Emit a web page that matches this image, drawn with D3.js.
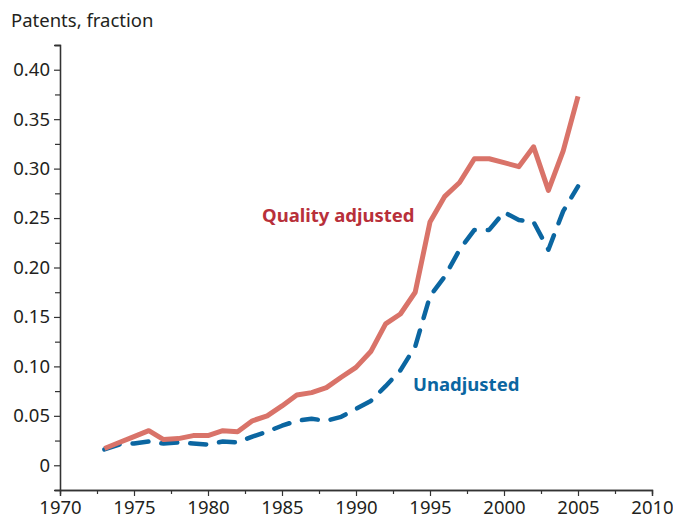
<!DOCTYPE html>
<html>
<head>
<meta charset="utf-8">
<script src="https://cdn.jsdelivr.net/npm/d3@7"></script>
<style>
  body { margin: 0; background: #fff; }
  svg text { font-family: "Noto Sans", Lato, sans-serif; fill: #231f20; }
</style>
</head>
<body>
<div id="container"></div>
<script>
const years = d3.range(1973, 2006);
const qualityAdjusted = [0.017, 0.023, 0.029, 0.035, 0.026, 0.027, 0.030, 0.030, 0.035, 0.034,
  0.045, 0.050, 0.060, 0.071, 0.0735, 0.0785, 0.089, 0.099, 0.115, 0.143, 0.153, 0.175,
  0.246, 0.272, 0.286, 0.310, 0.310, 0.306, 0.302, 0.322, 0.278, 0.318, 0.373];
const unadjusted = [0.016, 0.021, 0.022, 0.024, 0.022, 0.023, 0.022, 0.021, 0.024, 0.023,
  0.029, 0.034, 0.040, 0.045, 0.047, 0.045, 0.049, 0.057, 0.065, 0.080, 0.096, 0.120,
  0.171, 0.191, 0.218, 0.238, 0.238, 0.256, 0.248, 0.246, 0.218, 0.257, 0.282];
const yTicks = [0, 0.05, 0.10, 0.15, 0.20, 0.25, 0.30, 0.35, 0.40];
const yMinor = [-0.025, 0.025, 0.075, 0.125, 0.175, 0.225, 0.275, 0.325, 0.375, 0.425];
const xTicks = [1970, 1975, 1980, 1985, 1990, 1995, 2000, 2005, 2010];
const xMinor = [1972.5, 1977.5, 1982.5, 1987.5, 1992.5, 1997.5, 2002.5, 2007.5];

const w = 673, h = 522;
const margin = {top: 45, left: 60, bottom: 32, right: 21};
const font = "'Noto Sans', Lato, sans-serif";

const svg = d3.select("#container").append("svg").attr("width", w).attr("height", h);

const xScale = d3.scaleLinear().domain([1970, 2010]).range([margin.left, w - margin.right]);
const yScale = d3.scaleLinear().domain([-0.025, 0.425]).range([h - margin.bottom, margin.top]);

// axes
const yAxis = d3.axisLeft(yScale).tickValues(yTicks).tickSize(6).tickPadding(4)
  .tickFormat(d => d === 0 ? "0" : d3.format(".2f")(d));
const yAxisMinor = d3.axisLeft(yScale).tickValues(yMinor).tickSize(5).tickFormat("");
const xAxis = d3.axisBottom(xScale).tickValues(xTicks).tickSize(6).tickPadding(5).tickFormat(d3.format("d"));
const xAxisMinor = d3.axisBottom(xScale).tickValues(xMinor).tickSize(4).tickFormat("");

const styleAxis = g => {
  g.selectAll("path.domain").attr("stroke", "#333").attr("stroke-width", 1.3);
  g.selectAll(".tick line").attr("stroke", "#333").attr("stroke-width", 1.2);
  g.selectAll("text").attr("font-size", 18.5).attr("fill", "#231f20").attr("font-family", font);
};

svg.append("g").attr("transform", `translate(${margin.left},0)`).call(yAxisMinor).call(styleAxis);
svg.append("g").attr("transform", `translate(${margin.left},0)`).call(yAxis).call(styleAxis);
svg.append("g").attr("transform", `translate(0,${h - margin.bottom})`).call(xAxisMinor).call(styleAxis);
svg.append("g").attr("transform", `translate(0,${h - margin.bottom})`).call(xAxis).call(styleAxis);

svg.append("text").attr("x", 11).attr("y", 27).attr("font-size", 18.5).text("Patents, fraction");

// lines
const line = d3.line().x((d, i) => xScale(years[i])).y(d => yScale(d));

svg.append("path").datum(unadjusted)
  .attr("d", line).attr("fill", "none")
  .attr("stroke", "#0b66a1").attr("stroke-width", 4.5)
  .attr("stroke-dasharray", "16,13").attr("stroke-linecap", "round").attr("stroke-linejoin", "round");

svg.append("path").datum(qualityAdjusted)
  .attr("d", line).attr("fill", "none")
  .attr("stroke", "#d97369").attr("stroke-width", 5).attr("stroke-linejoin", "round");

svg.append("text").attr("x", 262).attr("y", 222).attr("font-size", 18.5).attr("font-weight", "bold")
  .style("fill", "#b8303a").text("Quality adjusted");
svg.append("text").attr("x", 413).attr("y", 391).attr("font-size", 18.5).attr("font-weight", "bold")
  .style("fill", "#0b66a1").text("Unadjusted");
</script>
</body>
</html>
